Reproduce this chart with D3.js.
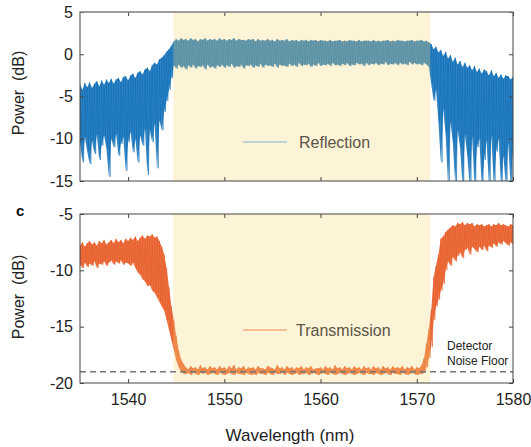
<!DOCTYPE html>
<html><head><meta charset="utf-8">
<script src="https://cdn.jsdelivr.net/npm/d3@7"></script>
<style>
body{margin:0;background:#fff;}
svg text{font-family:"Liberation Sans",Arial,Helvetica,sans-serif;}
</style></head>
<body><svg id="chart" width="531" height="447"></svg>
<script>
// ---------- DATA ----------
const wlStart = 1535, wlStep = 0.25;
const xTicks = [1540, 1550, 1560, 1570, 1580];
const reflTicks = [5, 0, -5, -10, -15];
const transTicks = [-5, -10, -15, -20];
const bandRange = [1544.7, 1571.4];   // highlighted stop band (nm)
const noiseFloor = -19;               // detector noise floor (dB)

// Reflection: upper / lower fringe envelope (dB), one pair per 0.25 nm from 1535 to 1580
const reflHi = [
 -3.6,-4.2,-3.4,-3.9,-3.3,-4.0,-3.5,-3.2,-3.8,-3.1,-3.6,-3.0,-3.4,-2.9,-3.5,-3.0,-2.8,-3.3,-2.7,-2.6,
 -3.1,-2.5,-2.3,-2.8,-2.2,-2.0,-2.4,-1.8,-1.6,-2.0,-1.3,-1.0,-1.2,-0.6,-0.4,-0.1,0.3,0.6,1.0,
 1.5,1.8,1.6,1.9,1.7,1.8,1.6,1.9,1.7,1.8,1.5,1.8,1.7,1.9,1.6,1.8,1.7,1.8,1.6,1.9,
 1.7,1.8,1.6,1.8,1.7,1.9,1.6,1.8,1.7,1.7,1.6,1.8,1.7,1.8,1.5,1.8,1.6,1.7,1.6,1.8,
 1.6,1.7,1.5,1.8,1.6,1.7,1.6,1.8,1.5,1.7,1.6,1.7,1.5,1.7,1.6,1.7,1.5,1.7,1.6,1.7,
 1.5,1.7,1.6,1.6,1.5,1.7,1.5,1.6,1.6,1.7,1.5,1.6,1.5,1.7,1.6,1.6,1.5,1.7,1.5,1.6,
 1.6,1.6,1.5,1.7,1.5,1.6,1.5,1.6,1.6,1.7,1.5,1.6,1.5,1.7,1.6,1.6,1.5,1.6,1.6,1.7,
 1.5,1.6,1.6,1.7,1.5,1.6,1.4,
 1.2,0.6,0.9,0.2,0.5,-0.2,0.3,-0.5,-0.1,-0.9,-0.4,-1.2,-0.8,-1.5,-1.0,-1.6,-1.3,-1.9,-1.4,-2.1,
 -1.7,-2.3,-1.8,-2.0,-2.5,-1.9,-2.6,-2.2,-2.8,-2.4,-2.9,-2.5,-2.6,-3.0,-2.7
];
const reflLo = [
 -10.5,-12.8,-9.8,-11.5,-13.0,-10.2,-11.8,-9.5,-12.5,-10.8,-9.6,-11.2,-14.5,-10.0,-11.0,-9.4,-12.0,-10.6,-9.8,-13.8,
 -10.4,-9.2,-11.6,-10.0,-12.8,-9.6,-10.8,-8.8,-14.3,-9.0,-10.4,-8.2,-13.5,-7.8,-9.0,-6.8,-5.5,-4.2,-2.8,
 -1.3,-1.7,-1.2,-1.6,-1.4,-1.8,-1.3,-1.6,-1.2,-1.7,-1.4,-1.5,-1.3,-1.8,-1.2,-1.6,-1.4,-1.7,-1.3,-1.5,
 -1.2,-1.6,-1.3,-1.5,-1.1,-1.6,-1.4,-1.5,-1.2,-1.7,-1.3,-1.4,-1.2,-1.6,-1.3,-1.5,-1.1,-1.6,-1.2,-1.4,
 -1.3,-1.5,-1.1,-1.6,-1.2,-1.4,-1.3,-1.5,-1.1,-1.4,-1.2,-1.5,-1.0,-1.4,-1.2,-1.3,-1.1,-1.5,-1.2,-1.4,
 -1.0,-1.4,-1.2,-1.3,-1.1,-1.4,-1.0,-1.3,-1.2,-1.4,-1.1,-1.3,-1.0,-1.4,-1.2,-1.3,-1.0,-1.2,-1.1,-1.4,
 -1.0,-1.3,-1.1,-1.2,-1.0,-1.3,-1.1,-1.2,-0.9,-1.3,-1.1,-1.2,-1.0,-1.3,-1.0,-1.2,-1.1,-1.3,-0.9,-1.2,
 -1.0,-1.2,-1.1,-1.3,-1.0,-1.2,-1.5,
 -3.5,-5.5,-4.2,-8.0,-12.8,-6.5,-9.5,-15.5,-8.0,-10.5,-15.5,-9.0,-11.0,-15.5,-9.5,-12.0,-15.5,-9.8,-15.5,-11.0,
 -10.0,-15.5,-12.5,-10.2,-15.5,-9.6,-15.5,-11.5,-10.0,-15.5,-12.0,-15.5,-10.5,-15.5,-11.0
];

// Transmission: upper / lower fringe envelope (dB), same wavelength grid
const transHi = [
 -7.8,-7.5,-7.9,-7.6,-7.4,-7.7,-7.5,-7.8,-7.4,-7.6,-7.3,-7.7,-7.5,-7.3,-7.6,-7.2,-7.5,-7.3,-7.6,-7.2,
 -7.4,-7.1,-7.3,-7.0,-7.4,-7.1,-6.9,-7.2,-6.9,-7.0,-6.8,-7.1,-7.0,-7.4,-7.9,-8.6,-9.8,-11.5,-13.2,
 -14.4,-15.8,-17.1,-17.9,-18.3,
 -18.6,-18.8,-18.5,-18.7,-18.6,-18.8,-18.4,-18.7,-18.6,-18.8,-18.5,-18.7,-18.6,-18.8,
 -18.5,-18.7,-18.6,-18.8,-18.5,-18.7,-18.4,-18.8,-18.6,-18.7,-18.5,-18.8,-18.6,-18.7,
 -18.6,-18.8,-18.5,-18.7,-18.7,-18.8,-18.5,-18.6,-18.7,-18.8,-18.4,-18.7,-18.6,-18.8,
 -18.5,-18.7,-18.6,-18.8,-18.6,-18.7,-18.5,-18.8,-18.6,-18.7,-18.5,-18.8,-18.7,-18.7,
 -18.6,-18.8,-18.5,-18.7,-18.6,-18.8,-18.4,-18.7,-18.6,-18.8,-18.5,-18.7,-18.6,-18.8,
 -18.5,-18.7,-18.6,-18.8,-18.5,-18.7,-18.6,-18.8,-18.5,-18.7,-18.6,-18.8,-18.5,-18.7,
 -18.6,-18.8,-18.5,-18.7,-18.6,-18.7,-18.5,-18.8,-18.6,-18.7,-18.5,-18.8,-18.6,-18.7,
 -18.4,-17.8,-16.5,-15.2,
 -13.5,-10.6,-9.6,-8.6,-7.2,-7.0,-6.6,-6.4,-6.2,-6.0,
 -6.1,-5.8,-5.9,-5.7,-6.0,-5.8,-5.9,-5.8,-6.1,-5.9,
 -6.0,-5.9,-6.1,-6.0,-5.9,-6.1,-5.9,-6.0,-5.8,-6.0,
 -5.9,-6.0,-6.1,-5.9,-6.0
];
const transLo = [
 -9.5,-9.8,-9.3,-9.7,-9.4,-9.6,-9.2,-9.8,-9.4,-9.5,-9.2,-9.6,-9.3,-9.1,-9.5,-9.2,-9.4,-9.1,-9.5,-9.3,
 -9.4,-9.6,-9.3,-9.8,-10.2,-10.4,-10.8,-11.0,-11.4,-11.3,-11.8,-12.0,-12.4,-12.8,-13.2,-13.6,-14.4,-15.3,-16.2,
 -17.1,-18.0,-18.6,-19.0,-19.2,
 -19.2,-19.1,-19.3,-19.1,-19.2,-19.3,-19.1,-19.2,-19.1,-19.3,-19.2,-19.1,-19.2,-19.3,
 -19.1,-19.2,-19.3,-19.2,-19.1,-19.2,-19.3,-19.1,-19.2,-19.2,-19.3,-19.1,-19.2,-19.3,
 -19.2,-19.3,-19.1,-19.2,-19.2,-19.3,-19.1,-19.2,-19.3,-19.1,-19.2,-19.2,-19.1,-19.3,
 -19.1,-19.2,-19.3,-19.2,-19.1,-19.3,-19.2,-19.2,-19.1,-19.3,-19.2,-19.1,-19.2,-19.3,
 -19.2,-19.1,-19.2,-19.3,-19.1,-19.2,-19.3,-19.2,-19.1,-19.2,-19.3,-19.2,-19.1,-19.2,
 -19.3,-19.2,-19.1,-19.2,-19.3,-19.1,-19.2,-19.2,-19.3,-19.1,-19.2,-19.3,-19.2,-19.1,
 -19.2,-19.3,-19.1,-19.2,-19.2,-19.3,-19.1,-19.2,-19.3,-19.2,-19.1,-19.2,-19.3,-19.2,
 -19.2,-19.1,-18.6,-17.8,
 -16.8,-14.4,-13.2,-12.6,-11.8,-11.2,-10.0,-9.2,-9.6,-8.8,
 -9.2,-8.7,-8.4,-8.9,-8.2,-8.0,-8.6,-7.9,-8.1,-8.4,
 -7.9,-8.2,-7.8,-8.3,-7.8,-8.0,-7.6,-7.9,-7.5,-7.7,
 -7.4,-7.6,-7.8,-7.5,-7.7
];

// ---------- CHART ----------
const svg = d3.select("#chart");
const X0 = 80, X1 = 513;
const x = d3.scaleLinear().domain([1535, 1580]).range([X0, X1]);
const fmt = d => String(d);

const panels = [
  {id:"refl", y0:12, y1:181, domain:[-15,5], ticks:reflTicks, hi:reflHi, lo:reflLo,
   color:"#0d6db7", legendColor:"#a8c9d6", legend:"Reflection", labelY:93, showX:false},
  {id:"trans", y0:214, y1:383, domain:[-20,-5], ticks:transTicks, hi:transHi, lo:transLo,
   color:"#e85a24", legendColor:"#f4af7e", legend:"Transmission", labelY:297, showX:true}
];

panels.forEach(p => {
  const y = d3.scaleLinear().domain(p.domain).range([p.y1, p.y0]);
  const g = svg.append("g");
  g.append("clipPath").attr("id", "clip-" + p.id)
    .append("rect").attr("x", X0).attr("y", p.y0).attr("width", X1 - X0).attr("height", p.y1 - p.y0);

  const samples = p.hi.map((h, i) => ({w: wlStart + i * wlStep, hi: h, lo: p.lo[i]}));
  const plot = g.append("g").attr("clip-path", `url(#clip-${p.id})`);

  // fringe body
  plot.append("path")
    .attr("d", d3.area().x(d => x(d.w)).y0(d => y(d.lo)).y1(d => y(d.hi))(samples))
    .attr("fill", p.color).attr("fill-opacity", 0.85);

  // zig-zag between fringe maxima and minima
  const pts = [];
  samples.forEach(s => { pts.push([s.w, s.hi]); pts.push([s.w + wlStep / 2, s.lo]); });
  plot.append("path")
    .attr("d", d3.line().x(d => x(d[0])).y(d => y(d[1]))(pts))
    .attr("fill", "none").attr("stroke", p.color)
    .attr("stroke-width", 0.8).attr("stroke-opacity", 0.7).attr("stroke-linejoin", "round");

  // highlight overlay
  g.append("rect")
    .attr("x", x(bandRange[0])).attr("y", p.y0)
    .attr("width", x(bandRange[1]) - x(bandRange[0])).attr("height", p.y1 - p.y0)
    .attr("fill", "rgb(250,215,120)").attr("fill-opacity", 0.3);

  // legend
  const ly = p.id === "refl" ? 142 : 330;
  g.append("line").attr("x1", 243).attr("x2", 287).attr("y1", ly).attr("y2", ly)
    .attr("stroke", p.legendColor).attr("stroke-width", 1.5);
  g.append("text").attr("x", p.id === "refl" ? 299 : 296).attr("y", ly).attr("dy", "0.35em")
    .attr("font-size", 16).attr("fill", "#5a5548").text(p.legend);

  // noise floor
  if (p.id === "trans") {
    g.append("line").attr("x1", X0).attr("x2", X1).attr("y1", y(noiseFloor)).attr("y2", y(noiseFloor))
      .attr("stroke", "#777").attr("stroke-width", 1.3).attr("stroke-dasharray", "6,4");
    g.append("text").attr("x", 447).attr("y", 350).attr("font-size", 12).attr("fill", "#222").text("Detector");
    g.append("text").attr("x", 447).attr("y", 365).attr("font-size", 12).attr("fill", "#222").text("Noise Floor");
  }

  // axes
  const left = g.append("g").attr("transform", `translate(${X0},0)`)
    .call(d3.axisLeft(y).tickValues(p.ticks).tickFormat(fmt).tickSize(-4).tickPadding(7));
  const right = g.append("g").attr("transform", `translate(${X1},0)`)
    .call(d3.axisRight(y).tickValues(p.ticks).tickFormat("").tickSize(-4));
  const bottom = g.append("g").attr("transform", `translate(0,${p.y1})`)
    .call(d3.axisBottom(x).tickValues(xTicks).tickFormat(p.showX ? fmt : "").tickSize(-4).tickPadding(11));
  const top = g.append("g").attr("transform", `translate(0,${p.y0})`)
    .call(d3.axisTop(x).tickValues(xTicks).tickFormat("").tickSize(-4));
  [left, right, bottom, top].forEach(a => {
    a.select(".domain").remove();
    a.selectAll(".tick line").attr("stroke", "#444");
    a.selectAll("text").attr("font-size", 16).attr("fill", "#222")
      .style("font-family", '"Liberation Sans", Arial, sans-serif');
  });

  // frame
  g.append("rect").attr("x", X0).attr("y", p.y0).attr("width", X1 - X0).attr("height", p.y1 - p.y0)
    .attr("fill", "none").attr("stroke", "#444").attr("stroke-width", 1);
  if (p.id === "refl") {
    g.append("line").attr("x1", X0).attr("x2", X1).attr("y1", p.y0).attr("y2", p.y0)
      .attr("stroke", "#999").attr("stroke-width", 1.2);
  }

  // y label
  svg.append("text").attr("transform", `translate(18,${p.labelY}) rotate(-90)`)
    .attr("text-anchor", "middle").attr("dy", "0.35em").attr("font-size", 16).attr("fill", "#222")
    .style("white-space", "pre").text("Power  (dB)");
});

svg.append("text").attr("x", 16).attr("y", 211).attr("dy", "0.35em")
  .attr("font-size", 15).attr("font-weight", "bold").attr("fill", "#111").text("c");

svg.append("text").attr("x", 290).attr("y", 435).attr("dy", "0.35em").attr("text-anchor", "middle")
  .attr("font-size", 17).attr("fill", "#222").text("Wavelength (nm)");
</script>
</body></html>
